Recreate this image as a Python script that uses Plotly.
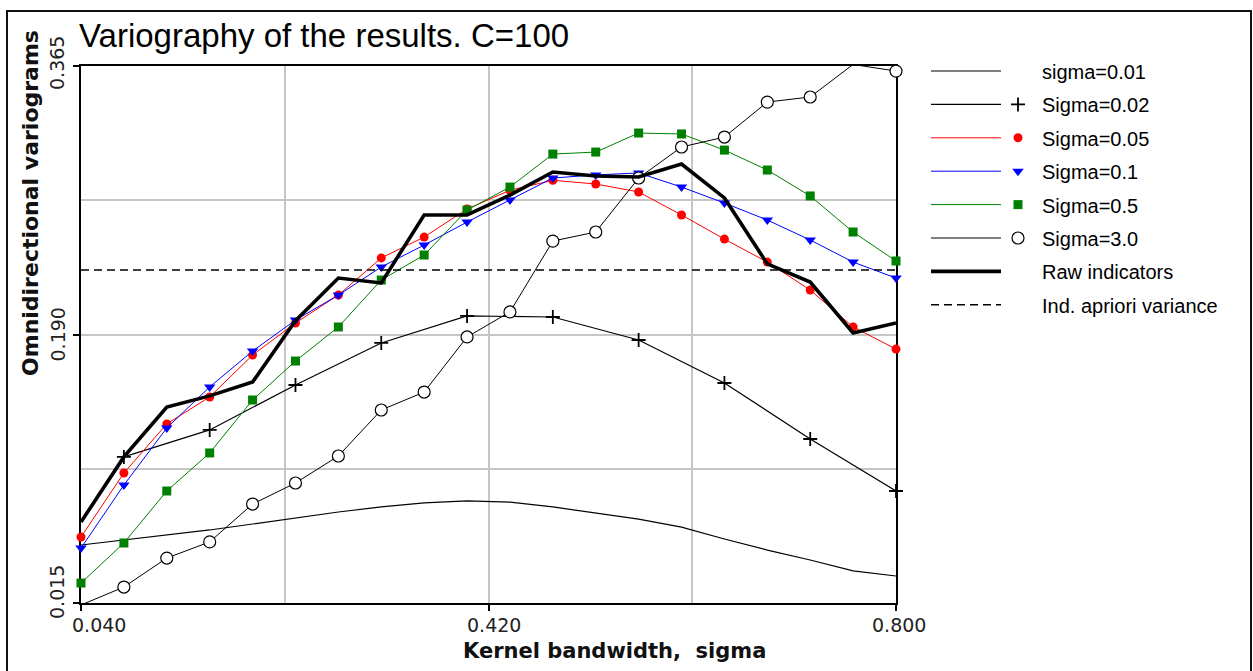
import plotly.graph_objects as go

# ---------------------------------------------------------------- data
bandwidth = [0.04, 0.08, 0.12, 0.16, 0.20, 0.24, 0.28, 0.32, 0.36, 0.40,
             0.44, 0.48, 0.52, 0.56, 0.60, 0.64, 0.68, 0.72, 0.76, 0.80]

sigma_001 = [0.0528, 0.0561, 0.0593, 0.0626, 0.0665, 0.0704, 0.0743, 0.0776, 0.0802, 0.0815,
             0.0808, 0.0776, 0.0737, 0.0697, 0.0645, 0.0567, 0.0495, 0.0430, 0.0359, 0.0326]

bandwidth_002 = [0.08, 0.16, 0.24, 0.32, 0.40, 0.48, 0.56, 0.64, 0.72, 0.80]
sigma_002 = [0.1102, 0.1278, 0.1571, 0.1845, 0.2021, 0.2014, 0.1864, 0.1584, 0.1219, 0.0880]

sigma_005 = [0.0580, 0.0997, 0.1317, 0.1493, 0.1766, 0.1975, 0.2157, 0.2399, 0.2535, 0.2718,
             0.2840, 0.2905, 0.2881, 0.2829, 0.2679, 0.2522, 0.2372, 0.2190, 0.1949, 0.1805]

sigma_01 = [0.0508, 0.0919, 0.1291, 0.1558, 0.1792, 0.1994, 0.2157, 0.2340, 0.2483, 0.2633,
            0.2777, 0.2920, 0.2940, 0.2953, 0.2861, 0.2757, 0.2646, 0.2516, 0.2372, 0.2268]

sigma_05 = [0.0280, 0.0541, 0.0880, 0.1128, 0.1473, 0.1727, 0.1949, 0.2255, 0.2418, 0.2711,
            0.2861, 0.3076, 0.3089, 0.3213, 0.3207, 0.3102, 0.2972, 0.2803, 0.2568, 0.2379]

sigma_30 = [0.0137, 0.0254, 0.0443, 0.0548, 0.0795, 0.0932, 0.1108, 0.1408, 0.1525, 0.1884,
            0.2047, 0.2509, 0.2568, 0.2920, 0.3122, 0.3187, 0.3415, 0.3448, 0.3660, 0.3617]

raw_indicators = [0.0678, 0.1102, 0.1427, 0.1500, 0.1590, 0.1990, 0.2268, 0.2236, 0.2679, 0.2679,
                  0.2809, 0.2959, 0.2933, 0.2927, 0.3011, 0.2790, 0.2360, 0.2242, 0.1910, 0.1975]

apriori_variance = 0.232

x_ticks = [0.04, 0.42, 0.80]
x_tick_text = ["0.040", "0.420", "0.800"]
x_grid = [0.23, 0.61]
y_ticks = [0.015, 0.190, 0.365]
y_tick_text = ["0.015", "0.190", "0.365"]
y_grid = [0.1025, 0.2775]

legend_labels = ["sigma=0.01", "Sigma=0.02", "Sigma=0.05", "Sigma=0.1",
                 "Sigma=0.5", "Sigma=3.0", "Raw indicators", "Ind. apriori variance"]

# ---------------------------------------------------------------- geometry (pixels)
W, H = 1253, 671
PL, PR, PT, PB = 81, 896, 66, 603


def fx(p):
    return p / W


def fy(p):
    return 1 - p / H


# ---------------------------------------------------------------- styles
RED, BLUE, GREEN, BLACK = "#ff0000", "#0000ff", "#008000", "#000000"
styles = [
    dict(color=BLACK, width=1.2, dash="solid", marker=None),
    dict(color=BLACK, width=1.2, dash="solid",
         marker=dict(symbol="cross-thin", size=10, line=dict(color=BLACK, width=1.8))),
    dict(color=RED, width=1, dash="solid",
         marker=dict(symbol="circle", size=9, color=RED)),
    dict(color=BLUE, width=1, dash="solid",
         marker=dict(symbol="triangle-down", size=10, color=BLUE)),
    dict(color=GREEN, width=1, dash="solid",
         marker=dict(symbol="square", size=9, color=GREEN)),
    dict(color=BLACK, width=1, dash="solid",
         marker=dict(symbol="circle", size=12, color="white", line=dict(color=BLACK, width=1.2))),
    dict(color=BLACK, width=3.6, dash="solid", marker=None),
    dict(color=BLACK, width=1.5, dash="8px,5px", marker=None),
]

series = [
    (bandwidth, sigma_001, styles[0]),
    (bandwidth_002, sigma_002, styles[1]),
    (bandwidth, sigma_005, styles[2]),
    (bandwidth, sigma_01, styles[3]),
    (bandwidth, sigma_05, styles[4]),
    (bandwidth, sigma_30, styles[5]),
]

fig = go.Figure()

for xs, ys, st in series:
    fig.add_trace(go.Scatter(
        x=xs, y=ys,
        mode="lines+markers" if st["marker"] else "lines",
        line=dict(color=st["color"], width=st["width"]),
        marker=st["marker"] if st["marker"] else None,
        cliponaxis=False, showlegend=False, hoverinfo="skip",
    ))

# a-priori variance level
fig.add_trace(go.Scatter(
    x=[bandwidth[0], bandwidth[-1]], y=[apriori_variance, apriori_variance],
    mode="lines", line=dict(color=BLACK, width=1.5, dash="8px,5px"),
    showlegend=False, hoverinfo="skip",
))

# raw indicator variogram on top
fig.add_trace(go.Scatter(
    x=bandwidth, y=raw_indicators, mode="lines",
    line=dict(color=BLACK, width=3.6), cliponaxis=False,
    showlegend=False, hoverinfo="skip",
))

# ---------------------------------------------------------------- legend (drawn on a hidden pixel axis)
LEG_X0, LEG_X1, LEG_MX, LEG_TX = 931, 1001, 1018, 1040
ROW0, ROW_STEP = 72, 33.4
for i, (lab, st) in enumerate(zip(legend_labels, styles)):
    ry = ROW0 + i * ROW_STEP
    fig.add_shape(type="line", xref="x2", yref="y2",
                  x0=LEG_X0, x1=LEG_X1, y0=ry - 1, y1=ry - 1,
                  line=dict(color=st["color"], width=st["width"], dash=st["dash"]))
    if st["marker"]:
        fig.add_trace(go.Scatter(
            x=[LEG_MX], y=[ry - 1], xaxis="x2", yaxis="y2", mode="markers",
            marker=st["marker"], showlegend=False, hoverinfo="skip", cliponaxis=False,
        ))
    fig.add_annotation(xref="x2", yref="y2", x=LEG_TX, y=ry, text=lab,
                       xanchor="left", yanchor="middle", showarrow=False,
                       font=dict(family="Liberation Sans, Arial", size=20, color="#000"))

# ---------------------------------------------------------------- tick labels
tick_font = dict(family="DejaVu Sans", size=19, color="#222")
x_shift = [14, 5, 3]
x_anchor = ["left", "center", "center"]
for v, t, sh, an in zip(x_ticks, x_tick_text, x_shift, x_anchor):
    fig.add_annotation(xref="x", yref="paper", x=v, y=fy(625), text=t,
                       xanchor="center" if an == "center" else "left",
                       xshift=sh if an == "center" else -11,
                       yanchor="middle", showarrow=False, font=tick_font)
y_shift = [11, 0, 3]
for v, t, sh in zip(y_ticks, y_tick_text, y_shift):
    fig.add_annotation(xref="paper", yref="y", x=fx(57), y=v, text=t, textangle=-90,
                       xanchor="center", yanchor="middle", yshift=sh,
                       showarrow=False, font=tick_font)

# ---------------------------------------------------------------- titles
fig.add_annotation(xref="paper", yref="paper", x=fx(77), y=fy(35),
                   text="Variography of the results. C=100", xanchor="left", yanchor="middle",
                   showarrow=False, font=dict(family="Liberation Sans, Arial", size=33, color="#000"))
fig.add_annotation(xref="paper", yref="paper", x=fx(614), y=fy(651),
                   text="Kernel bandwidth,\u00a0\u00a0sigma", xanchor="center", yanchor="middle",
                   showarrow=False, font=dict(family="DejaVu Sans", size=21, weight="bold", color="#111"))
fig.add_annotation(xref="paper", yref="paper", x=fx(30), y=fy(203),
                   text="Omnidirectional variograms", textangle=-90,
                   xanchor="center", yanchor="middle",
                   showarrow=False, font=dict(family="DejaVu Sans", size=22, weight="bold", color="#111"))

# outer frame
fig.add_shape(type="rect", xref="paper", yref="paper",
              x0=fx(7), x1=fx(1251), y0=fy(690), y1=fy(11),
              line=dict(color="#111", width=2), fillcolor="rgba(0,0,0,0)")

axis_common = dict(showline=True, linecolor=BLACK, linewidth=2, mirror=True,
                   ticks="outside", ticklen=6, tickwidth=2, tickcolor=BLACK,
                   showticklabels=False, zeroline=False, layer="below traces",
                   showgrid=True, gridcolor="#c6c6c6", gridwidth=1.5)

fig.update_layout(
    width=W, height=H,
    margin=dict(l=0, r=0, t=0, b=0),
    paper_bgcolor="white", plot_bgcolor="white",
    xaxis=dict(domain=[fx(PL), fx(PR)], range=[0.04, 0.80],
               tickmode="array", tickvals=x_ticks,
               minor=dict(tickmode="array", tickvals=x_grid, showgrid=True,
                          gridcolor="#c6c6c6", gridwidth=1.5, ticks=""),
               **axis_common),
    yaxis=dict(domain=[1 - PB / H, 1 - PT / H], range=[0.015, 0.365],
               tickmode="array", tickvals=y_ticks,
               minor=dict(tickmode="array", tickvals=y_grid, showgrid=True,
                          gridcolor="#c6c6c6", gridwidth=1.5, ticks=""),
               **axis_common),
    xaxis2=dict(domain=[fx(905), 1.0], range=[905, W], visible=False,
                anchor="y2", fixedrange=True),
    yaxis2=dict(domain=[0.0, 1.0], range=[H, 0], visible=False,
                anchor="x2", fixedrange=True),
)

fig.write_html("out.html")
